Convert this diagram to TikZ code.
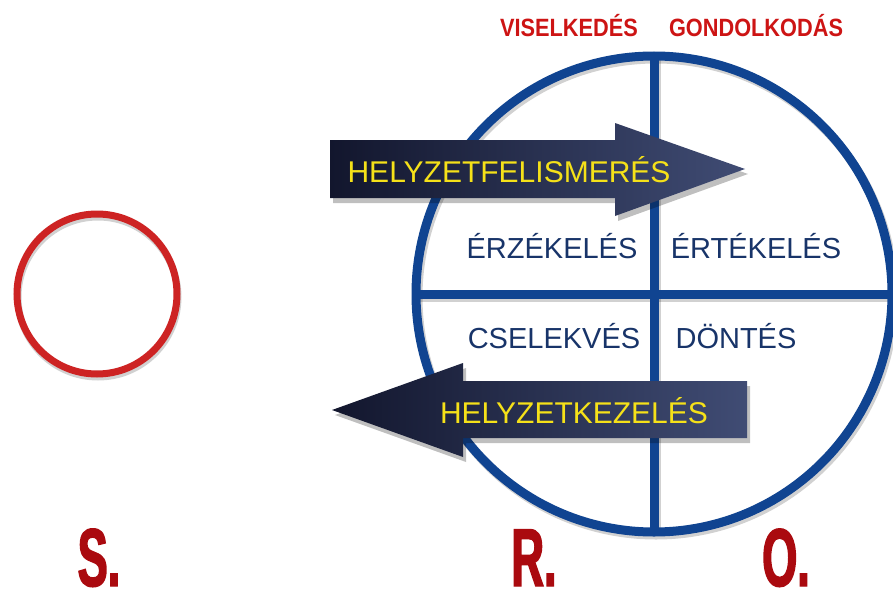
\documentclass[tikz,border=0pt]{standalone}
\usepackage{fontspec}
\setmainfont{Liberation Sans}
\newfontfamily\narrowfont[FakeStretch=0.87]{Liberation Sans}
\newfontfamily\tallfont[FakeStretch=0.55,FakeBold=1.8]{Liberation Sans}
\definecolor{ringblue}{RGB}{16,68,145}
\definecolor{ringred}{RGB}{205,35,35}
\definecolor{labelred}{RGB}{205,20,20}
\definecolor{letterred}{RGB}{170,10,15}
\definecolor{quadblue}{RGB}{24,52,105}
\definecolor{arrowdark}{RGB}{18,22,45}
\definecolor{arrowlight}{RGB}{64,76,116}
\definecolor{arrowtext}{RGB}{245,225,25}
\tikzset{ring/.style={line width=9pt, ringblue}}
\tikzset{shadowline/.style={line width=9pt, black, opacity=0.18}}
\tikzset{quad/.style={quadblue, font=\fontsize{29}{33}\selectfont, anchor=base, inner sep=0pt}}
\tikzset{bigarrow/.style={left color=arrowdark, right color=arrowlight, draw=none}}
\tikzset{arrowshadow/.style={fill=black, opacity=0.25}}
\tikzset{arrowlabel/.style={arrowtext, font=\fontsize{30}{34}\selectfont, anchor=base, inner sep=0pt}}
\tikzset{toplabel/.style={labelred, font=\narrowfont\bfseries\fontsize{25}{30}\selectfont, anchor=base, inner sep=0pt}}
\tikzset{letter/.style={letterred, font=\tallfont\bfseries\fontsize{82}{88}\selectfont, anchor=base, inner sep=0pt}}

\begin{document}
\begin{tikzpicture}[x=1pt, y=-1pt]
\useasboundingbox (0,0) rectangle (893,591);
\def\cx{654}
\def\cy{294}
\def\rad{238}
\draw[line width=7pt, black, opacity=0.18] (98,297) circle[radius=80];
\draw[line width=7pt, ringred] (97,294) circle[radius=80];
\draw[shadowline] (\cx+2,\cy+3) circle[radius=\rad];
\draw[shadowline] (\cx-\rad+2,\cy+3) -- (\cx+\rad+2,\cy+3);
\draw[shadowline] (\cx+2,\cy-\rad+3) -- (\cx+2,\cy+\rad+3);
\draw[ring] (\cx,\cy) circle[radius=\rad];
\draw[ring] (\cx-\rad,\cy) -- (\cx+\rad,\cy);
\draw[ring] (\cx,\cy-\rad) -- (\cx,\cy+\rad);
\fill[arrowshadow] (333,145) -- (618,145) -- (618,128) -- (748,174) -- (618,221) -- (618,203) -- (333,203) -- cycle;
\shade[bigarrow] (330,140) -- (615,140) -- (615,123) -- (745,169) -- (615,216) -- (615,198) -- (330,198) -- cycle;
\fill[arrowshadow] (335,415) -- (466,368) -- (466,386) -- (750,386) -- (750,443) -- (466,443) -- (466,462) -- cycle;
\shade[bigarrow] (332,410) -- (463,363) -- (463,381) -- (747,381) -- (747,438) -- (463,438) -- (463,457) -- cycle;
\node[toplabel] (vis) at (569,37) {VISELKEDÉS};
\node[toplabel] (gond) at (756,37) {GONDOLKODÁS};
\node[arrowlabel] (felism) at (509,182) {HELYZETFELISMERÉS};
\node[arrowlabel] (kezel) at (574,423) {HELYZETKEZELÉS};
\node[quad] (erz) at (552,258) {ÉRZÉKELÉS};
\node[quad] (ert) at (756,258) {ÉRTÉKELÉS};
\node[quad] (csel) at (554,348) {CSELEKVÉS};
\node[quad] (dont) at (736,348) {DÖNTÉS};
\node[letter] (S) at (99,586) {S.};
\node[letter] (R) at (534,586) {R.};
\node[letter] (O) at (786,586) {O.};
\end{tikzpicture}
\end{document}
